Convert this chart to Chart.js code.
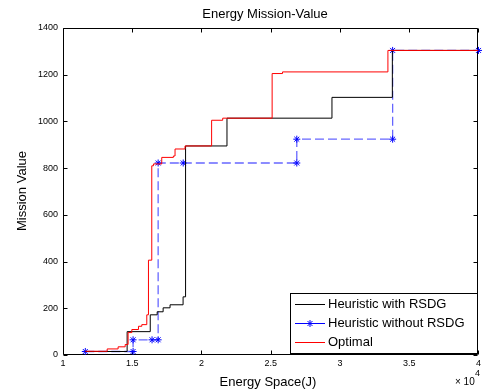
<!DOCTYPE html>
<html>
<head>
<meta charset="utf-8">
<script src="https://cdn.jsdelivr.net/npm/chart.js@4/dist/chart.umd.min.js"></script>
<style>
  html, body { margin: 0; padding: 0; background: #fff; }
  #wrap { width: 484px; height: 392px; position: relative; }
</style>
</head>
<body>
<div id="wrap"><canvas id="c" width="484" height="392"></canvas></div>
<script>
// ---- Data (x in Joules, y = mission value) ----
const chartTitle = 'Energy Mission-Value';
const xAxisLabel = 'Energy Space(J)';
const yAxisLabel = 'Mission Value';
const seriesNames = ['Heuristic with RSDG', 'Heuristic without RSDG', 'Optimal'];

const xTicks = [10000, 15000, 20000, 25000, 30000, 35000, 40000];
const xTickLabels = ['1', '1.5', '2', '2.5', '3', '3.5', '4'];
const yTicks = [0, 200, 400, 600, 800, 1000, 1200, 1400];

const rsdgX = [11610, 14630, 14630, 16300, 16300, 16800, 16800, 17230, 17230, 17730, 17730, 18670, 18670, 18850, 18850, 21840, 21840, 29420, 29420, 33780, 33780, 40000];
const rsdgY = [15, 15, 100, 100, 172, 172, 185, 185, 202, 202, 215, 215, 249, 249, 895, 895, 1014, 1014, 1103, 1103, 1304, 1304];

const noRsdgX = [11610, 15060, 15060, 16430, 16870, 16870, 18680, 26880, 26880, 33800, 33800, 40000];
const noRsdgY = [15, 15, 65, 65, 65, 822, 822, 822, 924, 924, 1304, 1304];

const optX = [11610, 13190, 13190, 13980, 13980, 14490, 14490, 14700, 14700, 14970, 14970, 15450, 15450, 15690, 15690, 16050, 16050, 16170, 16170, 16410, 16410, 16530, 16530, 17130, 17130, 17970, 17970, 18090, 18090, 18810, 18810, 20730, 20730, 21530, 21530, 25100, 25100, 25850, 25850, 33460, 33460, 40000];
const optY = [16, 16, 26, 26, 35, 35, 45, 45, 96, 96, 109, 109, 123, 123, 130, 130, 172, 172, 406, 406, 810, 810, 818, 818, 846, 846, 852, 852, 882, 882, 895, 895, 1005, 1005, 1014, 1014, 1205, 1205, 1212, 1212, 1304, 1304];

const colBlack = '#000000';
const colBlueLine = 'rgba(0,0,255,0.6)';
const colBlue = '#0000ff';
const colRed = '#ff0000';
const FONT = "'Liberation Sans', Arial, Helvetica, sans-serif";

function pts(xs, ys) { return xs.map((x, i) => ({ x: x, y: ys[i] })); }

function drawStar(ctx, x, y, r) {
  ctx.beginPath();
  for (let k = 0; k < 4; k++) {
    const a = k * Math.PI / 4;
    ctx.moveTo(x - r * Math.cos(a), y - r * Math.sin(a));
    ctx.lineTo(x + r * Math.cos(a), y + r * Math.sin(a));
  }
  ctx.stroke();
}

const matlabPlugin = {
  id: 'matlab',
  beforeDatasetsDraw(chart) {
    const ctx = chart.ctx, a = chart.chartArea;
    const xs = chart.scales.x, ys = chart.scales.y;
    ctx.save();
    ctx.strokeStyle = '#000';
    ctx.lineWidth = 1;
    ctx.beginPath();
    const L = Math.round(a.left) + 0.5, R = Math.round(a.right) - 0.5;
    const T = Math.round(a.top) + 0.5, B = Math.round(a.bottom) - 0.5;
    ctx.rect(L, T, R - L, B - T);
    const tl = 4;
    xTicks.forEach(v => {
      const px = Math.round(xs.getPixelForValue(v)) + 0.5;
      ctx.moveTo(px, B); ctx.lineTo(px, B - tl);
      ctx.moveTo(px, T); ctx.lineTo(px, T + tl);
    });
    yTicks.forEach(v => {
      const py = Math.round(ys.getPixelForValue(v)) + 0.5;
      ctx.moveTo(L, py); ctx.lineTo(L + tl, py);
      ctx.moveTo(R, py); ctx.lineTo(R - tl, py);
    });
    ctx.stroke();
    ctx.restore();
  },
  afterDraw(chart) {
    const ctx = chart.ctx, a = chart.chartArea;
    ctx.save();
    ctx.fillStyle = '#000';
    // title
    ctx.font = '13px ' + FONT;
    ctx.textAlign = 'center';
    ctx.textBaseline = 'middle';
    ctx.fillText(chartTitle, 265, 14);
    // x label
    ctx.fillText(xAxisLabel, 268, 382);
    // y label
    ctx.save();
    ctx.translate(22, 191);
    ctx.rotate(-Math.PI / 2);
    ctx.fillText(yAxisLabel, 0, 0);
    ctx.restore();
    // x10^4
    ctx.font = '10px ' + FONT;
    ctx.textAlign = 'left';
    ctx.fillText('\u00d7 10', 455, 382);
    ctx.font = '9px ' + FONT;
    ctx.fillText('4', 475, 374);

    // legend
    const bx = 290.5, by = 293.5, bw = 187, bh = 60;
    ctx.fillStyle = '#fff';
    ctx.fillRect(bx, by, bw, bh);
    ctx.strokeStyle = '#000';
    ctx.lineWidth = 1;
    ctx.strokeRect(bx, by, bw, bh);
    const rows = [304, 323, 342];
    const cols = [colBlack, colBlue, colRed];
    ctx.font = '13px ' + FONT;
    ctx.textBaseline = 'middle';
    rows.forEach((ry, i) => {
      ctx.strokeStyle = cols[i];
      ctx.beginPath();
      ctx.moveTo(295, ry + 0.5);
      ctx.lineTo(325, ry + 0.5);
      ctx.stroke();
      if (i === 1) drawStar(ctx, 310, ry + 0.5, 3.5);
      ctx.fillStyle = '#000';
      ctx.fillText(seriesNames[i], 328, ry);
    });
    ctx.restore();
  }
};

new Chart(document.getElementById('c'), {
  type: 'line',
  data: {
    datasets: [
      {
        label: seriesNames[0],
        data: pts(rsdgX, rsdgY),
        borderColor: colBlack,
        borderWidth: 1,
        pointRadius: 0,
        tension: 0,
        fill: false,
        order: 2
      },
      {
        label: seriesNames[1],
        data: pts(noRsdgX, noRsdgY),
        borderColor: colBlueLine,
        borderWidth: 1.3,
        borderDash: [9, 4],
        pointStyle: 'star',
        pointRadius: 3.5,
        pointBorderColor: colBlue,
        pointBackgroundColor: colBlue,
        pointBorderWidth: 1,
        tension: 0,
        fill: false,
        clip: 8,
        order: 3
      },
      {
        label: seriesNames[2],
        data: pts(optX, optY),
        borderColor: colRed,
        borderWidth: 1,
        pointRadius: 0,
        tension: 0,
        fill: false,
        order: 1
      }
    ]
  },
  options: {
    responsive: false,
    animation: false,
    devicePixelRatio: 1,
    layout: { padding: { top: 28, right: 5, left: 0, bottom: 0 } },
    plugins: {
      legend: { display: false },
      title: { display: false },
      tooltip: { enabled: false }
    },
    scales: {
      x: {
        type: 'linear',
        min: 10000,
        max: 40000,
        afterFit(s) { s.height = 37; },
        afterBuildTicks(s) { s.ticks = xTicks.map(v => ({ value: v })); },
        ticks: {
          autoSkip: false,
          maxRotation: 0,
          padding: 3,
          color: '#000',
          font: { family: FONT, size: 9 },
          callback(v) { const i = xTicks.indexOf(v); return i >= 0 ? xTickLabels[i] : ''; }
        },
        grid: { display: false, drawTicks: false },
        border: { display: false }
      },
      y: {
        type: 'linear',
        min: 0,
        max: 1400,
        afterFit(s) { s.width = 63; },
        afterBuildTicks(s) { s.ticks = yTicks.map(v => ({ value: v })); },
        ticks: {
          autoSkip: false,
          padding: 5,
          color: '#000',
          font: { family: FONT, size: 9 },
          callback(v) { return String(v); }
        },
        grid: { display: false, drawTicks: false },
        border: { display: false }
      }
    }
  },
  plugins: [matlabPlugin]
});
</script>
</body>
</html>
